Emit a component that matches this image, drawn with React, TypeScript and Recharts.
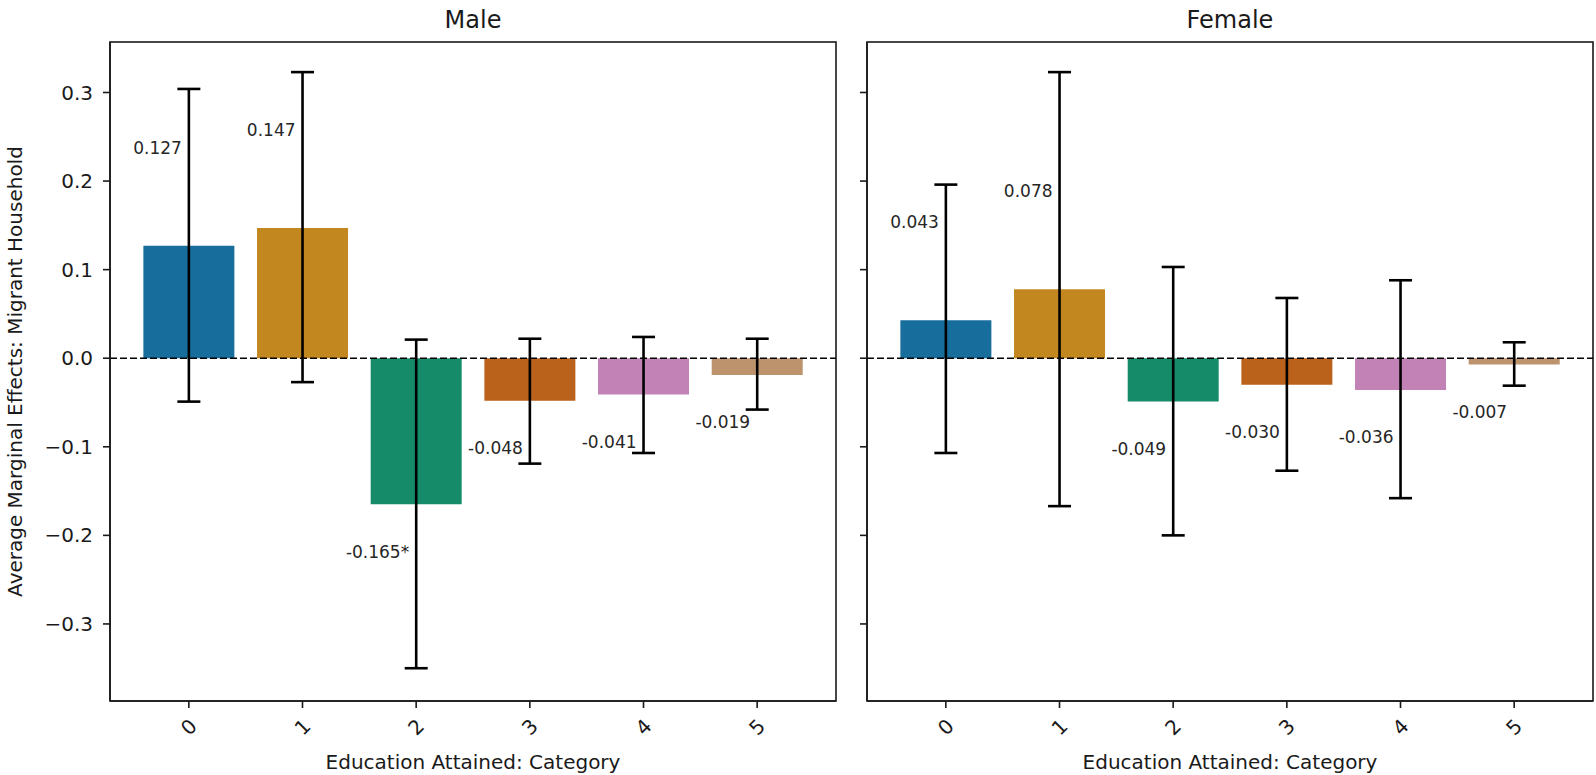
import { BarChart, Bar, XAxis, YAxis, ReferenceLine, ErrorBar, Cell, LabelList } from 'recharts';

// Education categories
const categories = ['0', '1', '2', '3', '4', '5'];

// Male: average marginal effects with 95% CI bounds
const maleAme = [0.127, 0.147, -0.165, -0.048, -0.041, -0.019];
const maleLo = [-0.049, -0.027, -0.350, -0.119, -0.107, -0.058];
const maleHi = [0.304, 0.323, 0.021, 0.022, 0.024, 0.022];
const maleSig = [false, false, true, false, false, false];

// Female
const femaleAme = [0.043, 0.078, -0.049, -0.030, -0.036, -0.007];
const femaleLo = [-0.107, -0.167, -0.200, -0.127, -0.158, -0.031];
const femaleHi = [0.196, 0.323, 0.103, 0.068, 0.088, 0.018];
const femaleSig = [false, false, false, false, false, false];

const yTicks = [-0.3, -0.2, -0.1, 0, 0.1, 0.2, 0.3];
const Y_DOMAIN: [number, number] = [-0.387, 0.357];

const COLORS = ['#176d9c', '#c38720', '#158b6a', '#ba611b', '#c282b6', '#bd936e'];
const FONT = '"DejaVu Sans", sans-serif';
const INK = '#1a1a1a';
const TOP = 42;
const PLOT_H = 659;

const buildRows = (ame: number[], lo: number[], hi: number[], sig: boolean[]) =>
  categories.map((cat, i) => ({
    cat,
    ame: ame[i],
    err: [ame[i] - lo[i], hi[i] - ame[i]],
    label: ame[i].toFixed(3) + (sig[i] ? '*' : ''),
  }));

const fmtY = (v: number) => (v < 0 ? '\u2212' + Math.abs(v).toFixed(1) : v.toFixed(1));

const RotTick = (props: any) => {
  const { x, y, payload } = props;
  const cy = y + 19;
  return (
    <text
      x={x}
      y={cy}
      textAnchor="middle"
      dominantBaseline="central"
      transform={`rotate(-45, ${x}, ${cy})`}
      fontFamily={FONT}
      fontSize={20}
      fill={INK}
    >
      {payload.value}
    </text>
  );
};

const makeLabel = (rows: any[]) => (props: any) => {
  const { x, y, width, height, index } = props;
  const row = rows[index];
  const top = Math.min(y, y + height);
  const bottom = Math.max(y, y + height);
  const cy = row.ame >= 0 ? top - 97.7 : bottom + 47.3;
  return (
    <text
      x={x + width / 2 - 7}
      y={cy}
      textAnchor="end"
      dominantBaseline="central"
      fontFamily={FONT}
      fontSize={17}
      fill="#262626"
    >
      {row.label}
    </text>
  );
};

function Panel({ title, rows, width, yWidth, marginRight, showYLabels }: any) {
  const plotW = width - yWidth - marginRight;
  const plotCx = yWidth + plotW / 2;
  return (
    <BarChart
      width={width}
      height={775}
      data={rows}
      margin={{ top: TOP, right: marginRight, left: 0, bottom: 0 }}
      barCategoryGap="10%"
    >
      <XAxis
        dataKey="cat"
        height={74}
        padding={{ left: 22, right: 22 }}
        tickSize={7}
        tickMargin={0}
        tickLine={{ stroke: INK, strokeWidth: 1.6 }}
        axisLine={{ stroke: INK, strokeWidth: 1.6 }}
        tick={<RotTick />}
      />
      <YAxis
        type="number"
        domain={Y_DOMAIN}
        ticks={yTicks}
        width={yWidth}
        tickSize={7}
        tickMargin={10}
        tickFormatter={showYLabels ? fmtY : () => ''}
        tickLine={{ stroke: INK, strokeWidth: 1.6 }}
        axisLine={{ stroke: INK, strokeWidth: 1.6 }}
        tick={{ fontFamily: FONT, fontSize: 20, fill: INK }}
        allowDataOverflow
      />
      <ReferenceLine y={0} stroke="#000" strokeWidth={1.5} strokeDasharray="7 3" />
      <Bar dataKey="ame" isAnimationActive={false}>
        {rows.map((_: any, i: number) => (
          <Cell key={`c-${i}`} fill={COLORS[i % COLORS.length]} />
        ))}
        <ErrorBar dataKey="err" width={11.5} stroke="#000" strokeWidth={2.6} direction="y" />
        <LabelList dataKey="ame" content={makeLabel(rows)} />
      </Bar>
      {/* axes frame (top + right spines) */}
      <rect x={yWidth} y={TOP} width={plotW} height={PLOT_H} fill="none" stroke={INK} strokeWidth={1.6} />
      <text x={plotCx} y={28} textAnchor="middle" fontFamily={FONT} fontSize={24} fill={INK}>
        {title}
      </text>
      <text x={plotCx} y={769} textAnchor="middle" fontFamily={FONT} fontSize={20} fill={INK}>
        Education Attained: Category
      </text>
      {showYLabels && (
        <text
          x={22}
          y={371.5}
          textAnchor="middle"
          transform="rotate(-90, 22, 371.5)"
          fontFamily={FONT}
          fontSize={20}
          fill={INK}
        >
          Average Marginal Effects: Migrant Household
        </text>
      )}
    </BarChart>
  );
}

export default function App() {
  const maleRows = buildRows(maleAme, maleLo, maleHi, maleSig);
  const femaleRows = buildRows(femaleAme, femaleLo, femaleHi, femaleSig);
  return (
    <div style={{ position: 'absolute', left: 0, top: 0, width: 1596, height: 775, display: 'flex', background: '#fff' }}>
      <Panel title="Male" rows={maleRows} width={850} yWidth={110} marginRight={14} showYLabels />
      <Panel title="Female" rows={femaleRows} width={746} yWidth={17} marginRight={3} showYLabels={false} />
    </div>
  );
}
